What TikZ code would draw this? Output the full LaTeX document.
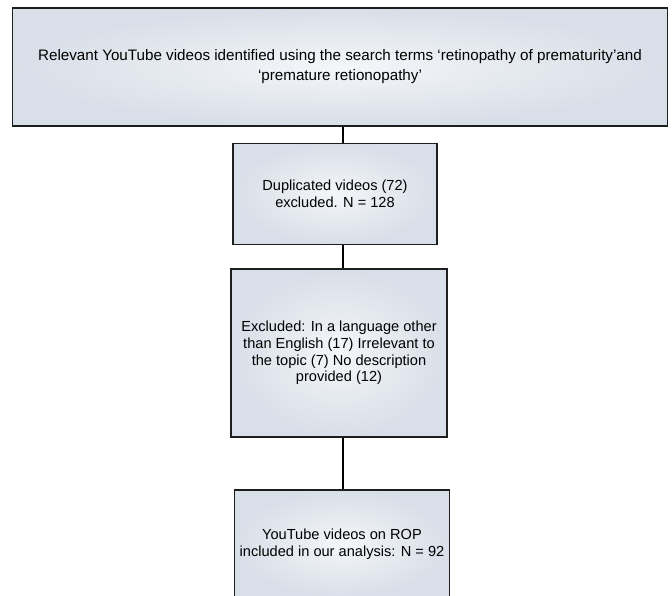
\documentclass[tikz,border=0pt]{standalone}
\usepackage{fontspec}
\setmainfont{Liberation Sans}
\definecolor{boxedge}{HTML}{1E1E1E}
\definecolor{boxin}{HTML}{F4F6F9}
\definecolor{boxout}{HTML}{D8DFE8}
\begin{document}
\begin{tikzpicture}[x=1pt,y=-1pt,
  flowbox/.style={draw=boxedge,line width=1.6pt,inner color=boxin,outer color=boxout,
    align=center,font=\fontsize{14.6}{16.8}\selectfont,inner sep=0pt},
  link/.style={draw=black,line width=1.3pt}]
\useasboundingbox[fill=white] (0,0) rectangle (672,596);
\node[flowbox,minimum width=655pt,minimum height=118pt,font=\fontsize{15.2}{20}\selectfont] (b1) at (340,67)
  {Relevant YouTube videos identified using the search terms ‘retinopathy of prematurity’and\\ ‘premature retionopathy’};
\node[flowbox,minimum width=204pt,minimum height=101pt] (b2) at (335,194)
  {Duplicated videos (72)\\ excluded. N = 128};
\node[flowbox,minimum width=216pt,minimum height=168pt] (b3) at (339,353)
  {Excluded: In a language other\\ than English (17) Irrelevant to\\ the topic (7) No description\\ provided (12)};
\node[flowbox,minimum width=215pt,minimum height=108pt] (b4) at (342,544)
  {YouTube videos on ROP\\ included in our analysis: N = 92};
\coordinate (lx) at (343,0);
\draw[link] (b1.south -| lx) -- (b2.north -| lx);
\draw[link] (b2.south -| lx) -- (b3.north -| lx);
\draw[link] (b3.south -| lx) -- (b4.north -| lx);
\end{tikzpicture}
\end{document}
